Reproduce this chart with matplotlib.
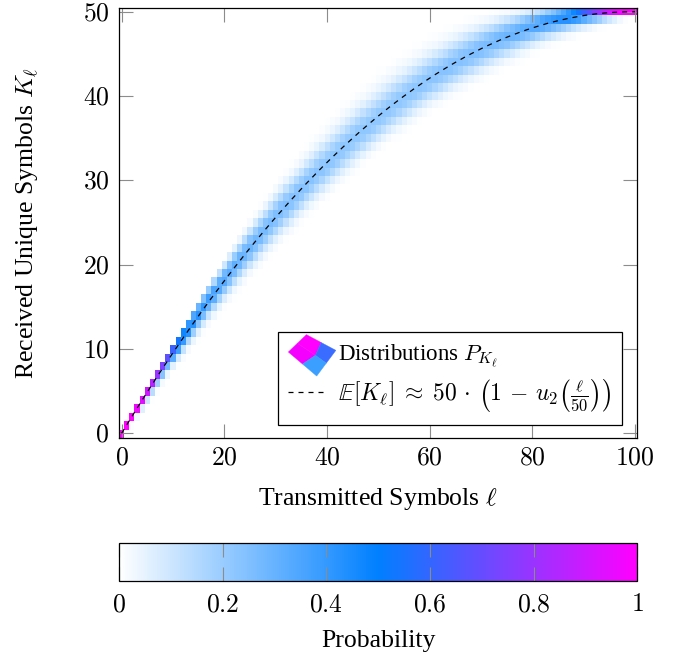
import numpy as np
import matplotlib
matplotlib.use('Agg')
import matplotlib.pyplot as plt
from matplotlib.colors import LinearSegmentedColormap
from matplotlib.patches import Polygon

plt.rcParams['font.family'] = ['Liberation Serif', 'DejaVu Serif']
plt.rcParams['mathtext.fontset'] = 'cm'
plt.rcParams['font.size'] = 18.5

# number of distinct symbols, transmitted symbols on the x axis
n_sym = 50
ell = np.arange(101)

# mean of K_l per column
mean_K = [0.00, 1.00, 1.99, 2.97, 3.94, 4.90, 5.85, 6.79, 7.72, 8.64,
          9.55, 10.44, 11.33, 12.21, 13.08, 13.94, 14.79, 15.63, 16.45, 17.27,
          18.08, 18.88, 19.67, 20.44, 21.21, 21.97, 22.72, 23.45, 24.18, 24.90,
          25.61, 26.30, 26.99, 27.67, 28.33, 28.99, 29.64, 30.27, 30.90, 31.52,
          32.12, 32.72, 33.30, 33.88, 34.44, 35.00, 35.55, 36.08, 36.61, 37.12,
          37.63, 38.12, 38.61, 39.08, 39.55, 40.00, 40.44, 40.88, 41.30, 41.72,
          42.12, 42.52, 42.90, 43.27, 43.64, 43.99, 44.33, 44.67, 44.99, 45.30,
          45.61, 45.90, 46.18, 46.45, 46.72, 46.97, 47.21, 47.44, 47.67, 47.88,
          48.08, 48.27, 48.45, 48.63, 48.79, 48.94, 49.08, 49.21, 49.33, 49.44,
          49.55, 49.64, 49.72, 49.79, 49.85, 49.90, 49.94, 49.97, 49.99, 50.00,
          50.00]

# spread of K_l per column (width of the coloured band)
sd_K = [0.00, 0.00, 0.10, 0.17, 0.24, 0.31, 0.37, 0.43, 0.50, 0.56,
        0.62, 0.67, 0.73, 0.78, 0.84, 0.89, 0.94, 0.99, 1.03, 1.08,
        1.12, 1.17, 1.21, 1.25, 1.29, 1.32, 1.36, 1.39, 1.43, 1.46,
        1.49, 1.51, 1.54, 1.57, 1.59, 1.61, 1.63, 1.65, 1.67, 1.69,
        1.70, 1.72, 1.73, 1.74, 1.75, 1.76, 1.77, 1.77, 1.77, 1.78,
        1.78, 1.78, 1.77, 1.77, 1.77, 1.76, 1.75, 1.74, 1.73, 1.72,
        1.70, 1.69, 1.67, 1.65, 1.63, 1.61, 1.59, 1.57, 1.54, 1.51,
        1.49, 1.46, 1.43, 1.39, 1.36, 1.32, 1.29, 1.25, 1.21, 1.17,
        1.12, 1.08, 1.03, 0.99, 0.94, 0.89, 0.84, 0.78, 0.73, 0.67,
        0.62, 0.56, 0.50, 0.43, 0.37, 0.31, 0.24, 0.17, 0.10, 0.00,
        0.00]

x_ticks = [0, 20, 40, 60, 80, 100]
y_ticks = [0, 10, 20, 30, 40, 50]
cbar_ticks = [0, 0.2, 0.4, 0.6, 0.8, 1]


def column_pmf(l, m, s):
    # pmf of K for one column, counted down from its upper bound min(l, 50)
    b = min(l, n_sym)
    mu = b - m
    pmf = np.zeros(n_sym + 1)
    if mu < 1e-3:
        pmf[b] = 1.0
        return pmf
    p = np.clip(1 - s**2 / mu, 0.02, 0.98)
    n = mu / p
    coef = 1.0
    for j in range(b + 1):
        if j > 0:
            coef *= (n - j + 1) / j
        if coef <= 0:
            break
        pmf[b - j] = coef * p**j * (1 - p)**(n - j)
    return pmf / pmf.sum()


P = np.column_stack([column_pmf(l, m, s) for l, m, s in zip(ell, mean_K, sd_K)])

cmap = LinearSegmentedColormap.from_list(
    'wbm', [(0.0, (1, 1, 1)), (0.5, (0, 0.5, 1)), (1.0, (1, 0, 1))])


class SurfProxy:
    pass


class SurfHandler:
    # small tilted surface patch like the pgfplots surf legend image
    def legend_artist(self, legend, orig_handle, fontsize, handlebox):
        x0 = -handlebox.xdescent
        tr_ = handlebox.get_transform()
        L = np.array([x0 + 0.2, 6.4])
        T = np.array([x0 + 13.2, 18.9])
        R = np.array([x0 + 34.4, 7.6])
        B = np.array([x0 + 20.6, -10.9])
        C = np.array([x0 + 19.7, 4.0])
        lt, tr, rb, bl = (L + T) / 2, (T + R) / 2, (R + B) / 2, (B + L) / 2
        quads = [([L, lt, C, bl], '#f400ff'), ([lt, T, tr, C], '#ff00ff'),
                 ([C, tr, R, rb], '#3a6cff'), ([bl, C, rb, B], '#3a9fff')]
        for pts, col in quads:
            poly = Polygon(pts, closed=True, facecolor=col, edgecolor=col,
                           lw=0.3, transform=tr_)
            handlebox.add_artist(poly)
        return poly


fig = plt.figure(figsize=(6.84, 6.58), dpi=100)
ax = fig.add_axes([0.174, 0.335, 0.758, 0.6535])

im = ax.imshow(P, origin='lower', aspect='auto', cmap=cmap, vmin=0, vmax=1,
               extent=(-0.5, 100.5, -0.5, 50.5), interpolation='nearest')
line, = ax.plot(ell, mean_K, color='black', lw=0.9, dashes=(4, 4))

ax.set_xlim(-0.5, 100.5)
ax.set_ylim(-0.5, 50.5)
ax.set_xticks(x_ticks)
ax.set_yticks(y_ticks)
ax.set_xticklabels(['$%d$' % t for t in x_ticks])
ax.set_yticklabels(['$%d$' % t for t in y_ticks])
ax.tick_params(direction='in', top=True, right=True, length=10, width=0.8,
               color='0.55', pad=7)
for sp in ax.spines.values():
    sp.set_linewidth(0.9)
ax.set_xlabel(r'Transmitted Symbols $\ell$', labelpad=12)
ax.set_ylabel(r'Received Unique Symbols $K_\ell$', labelpad=30)

leg = ax.legend([SurfProxy(), line],
                [r'Distributions $P_{K_\ell}$',
                 r'$\mathbb{E}[K_\ell] \;\approx\; 50 \,\cdot\, \left(1 \,-\, u_2\left(\frac{\ell}{50}\right)\right)$'],
                handler_map={SurfProxy: SurfHandler()},
                loc='lower right', bbox_to_anchor=(0.970, 0.0295),
                borderaxespad=0, fontsize=15, fancybox=False,
                edgecolor='black', framealpha=1,
                handlelength=1.92, handleheight=1.4, labelspacing=0.35,
                borderpad=0.5, handletextpad=0.48)
leg.get_frame().set_linewidth(0.9)
leg.get_texts()[0].set_fontsize(16.5)
leg.get_texts()[1].set_fontsize(17)

cax = fig.add_axes([0.174, 0.117, 0.758, 0.0582])
cb = fig.colorbar(im, cax=cax, orientation='horizontal')
cb.set_ticks(cbar_ticks)
cb.set_ticklabels(['$%g$' % t for t in cbar_ticks])
cax.tick_params(axis='x', direction='in', top=True, bottom=True, length=10,
                width=0.8, color='0.55', pad=9.5)
cb.outline.set_linewidth(0.9)
cb.set_label('Probability', labelpad=10)

fig.savefig('out.png', dpi=100)
